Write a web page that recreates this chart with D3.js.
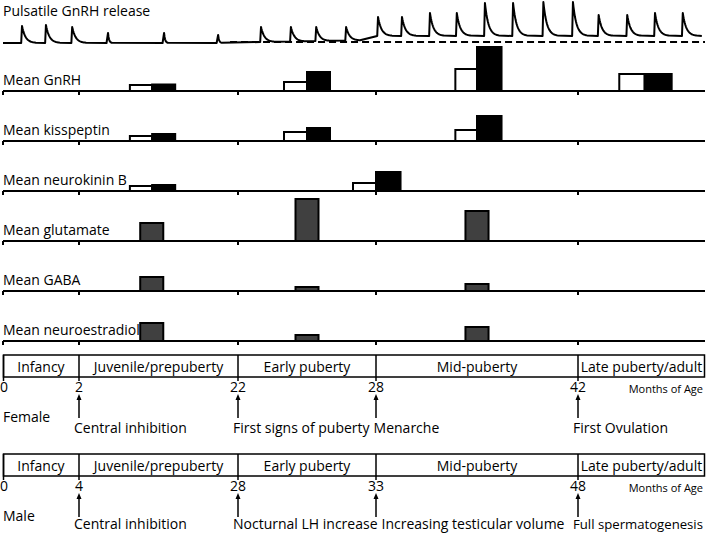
<!DOCTYPE html>
<html>
<head>
<meta charset="utf-8">
<script src="https://cdn.jsdelivr.net/npm/d3@7"></script>
<style>
body { margin: 0; background: #fff; }
text { font-family: "Open Sans", "Noto Sans", sans-serif; fill: #000; }
</style>
</head>
<body>
<div id="chart"></div>
<script>
// ---- data ----
const stages = ["Infancy", "Juvenile/prepuberty", "Early puberty", "Mid-puberty", "Late puberty/adult"];
const femaleTicks = [0, 2, 22, 28, 42];
const maleTicks = [0, 4, 28, 33, 48];
const femaleEvents = [
    { m: 2, label: "Central inhibition" },
    { m: 22, label: "First signs of puberty" },
    { m: 28, label: "Menarche" },
    { m: 42, label: "First Ovulation" }
];
const maleEvents = [
    { m: 4, label: "Central inhibition" },
    { m: 28, label: "Nocturnal LH increase" },
    { m: 33, label: "Increasing testicular volume" },
    { m: 48, label: "Full spermatogenesis" }
];

// pulses (female months), baseline level and peak level
const pulseMonths = [0.5, 1.13, 1.82, 5.65, 12.7, 19.5, 23.0, 24.3, 25.4, 26.7,
    28.14, 29.8, 31.74, 33.6, 35.55, 37.5, 39.6, 41.65, 43.3, 45.1, 46.85, 48.6];
const pulseBase = [0, 0, 0, 0, 0, 0, 1, 1.5, 2, 2.5,
    7, 7, 7, 7, 7, 7, 7, 7, 7, 7, 7, 7];
const pulsePeak = [17, 18, 16, 10, 10, 8, 16, 16, 16, 16,
    26, 26, 30, 30, 40, 40, 41, 41, 28, 28, 30, 30];

const rowNames = ["Mean GnRH", "Mean kisspeptin", "Mean neurokinin B",
    "Mean glutamate", "Mean GABA", "Mean neuroestradiol"];

// paired bars: start, split, end (months), open value, filled value
const gnrhBars = [
    { x0: 8.4, x1: 11.2, x2: 14.1, open: 6, fill: 6.5 },
    { x0: 24, x1: 25, x2: 26, open: 9, fill: 19 },
    { x0: 33.5, x1: 35, x2: 36.7, open: 22, fill: 44 },
    { x0: 44.6, x1: 46.2, x2: 47.9, open: 17, fill: 17 }
];
const kissBars = [
    { x0: 8.4, x1: 11.2, x2: 14.1, open: 5, fill: 7 },
    { x0: 24, x1: 25, x2: 26, open: 9, fill: 13 },
    { x0: 33.5, x1: 35, x2: 36.7, open: 11, fill: 25 }
];
const nkbBars = [
    { x0: 8.4, x1: 11.2, x2: 14.1, open: 5, fill: 6 },
    { x0: 27, x1: 28, x2: 29.7, open: 8, fill: 19 }
];
// single bars
const singleSpans = [[9.7, 12.6], [24.5, 25.5], [34.2, 35.8]];
const glutamate = [18, 42, 30];
const gaba = [14, 4, 7];
const neuroestradiol = [18, 6, 14];

// ---- layout ----
const W = 709, H = 537;
const edgeX = [3, 79, 238, 376, 578, 705];

const svg = d3.select("#chart").append("svg")
    .attr("width", W)
    .attr("height", H);

let x = d3.scaleLinear().domain([...femaleTicks, 50]).range(edgeX);
let xm = d3.scaleLinear().domain([...maleTicks, 56]).range(edgeX);

// ---- pulsatile trace ----
svg.append("text")
    .attr("x", 3).attr("y", 16)
    .attr("font-size", 14)
    .text("Pulsatile GnRH release");

let yP = d3.scaleLinear().domain([0, 43]).range([43, 0]);

svg.append("line")
    .attr("x1", x(21)).attr("x2", x(50))
    .attr("y1", yP(1)).attr("y2", yP(1))
    .attr("stroke", "#000")
    .attr("stroke-width", 2)
    .attr("stroke-dasharray", "7,4");

let pts = [[x(0), yP(pulseBase[0])]];
pulseMonths.forEach((m, i) => {
    let px = x(m), b = pulseBase[i], amp = pulsePeak[i] - b;
    let small = amp < 12;
    let tau = small ? 1 : 3.5;
    pts.push([px - (small ? 1.5 : 0.8), yP(b)]);
    pts.push([px, yP(pulsePeak[i])]);
    for (let k = 0.5; k <= tau * 4; k += 0.5) {
        pts.push([px + k, yP(b + amp * Math.exp(-k / tau))]);
    }
});
pts.push([x(49.8), yP(pulseBase[pulseBase.length - 1])]);

svg.append("path")
    .attr("d", d3.line()(pts))
    .attr("fill", "none")
    .attr("stroke", "#000")
    .attr("stroke-width", 2)
    .attr("stroke-linejoin", "round");

// ---- rows ----
let rowY = d3.scalePoint().domain(rowNames).range([91, 341]);
let h = d3.scaleLinear().domain([0, 50]).range([0, 50]);

let rows = svg.selectAll("g.row")
    .data(rowNames)
    .enter()
    .append("g")
    .attr("class", "row")
    .attr("transform", d => "translate(0," + rowY(d) + ")");

rows.append("text")
    .attr("x", 3).attr("y", -6)
    .attr("font-size", 14)
    .text(d => d);

function pairedBars(name, bars) {
    let g = svg.append("g").attr("transform", "translate(0," + rowY(name) + ")");
    g.selectAll("rect.open")
        .data(bars).enter().append("rect")
        .attr("x", d => x(d.x0))
        .attr("y", d => -h(d.open))
        .attr("width", d => x(d.x1) - x(d.x0))
        .attr("height", d => h(d.open))
        .attr("fill", "#fff")
        .attr("stroke", "#000")
        .attr("stroke-width", 2);
    g.selectAll("rect.fill")
        .data(bars).enter().append("rect")
        .attr("x", d => x(d.x1))
        .attr("y", d => -h(d.fill))
        .attr("width", d => x(d.x2) - x(d.x1))
        .attr("height", d => h(d.fill))
        .attr("fill", "#000")
        .attr("stroke", "#000")
        .attr("stroke-width", 2);
}

function singleBars(name, values) {
    let g = svg.append("g").attr("transform", "translate(0," + rowY(name) + ")");
    g.selectAll("rect")
        .data(values).enter().append("rect")
        .attr("x", (d, i) => x(singleSpans[i][0]))
        .attr("y", d => -h(d))
        .attr("width", (d, i) => x(singleSpans[i][1]) - x(singleSpans[i][0]))
        .attr("height", d => h(d))
        .attr("fill", "#404040")
        .attr("stroke", "#000")
        .attr("stroke-width", 2);
}

pairedBars("Mean GnRH", gnrhBars);
pairedBars("Mean kisspeptin", kissBars);
pairedBars("Mean neurokinin B", nkbBars);
singleBars("Mean glutamate", glutamate);
singleBars("Mean GABA", gaba);
singleBars("Mean neuroestradiol", neuroestradiol);

// baselines + ticks drawn over bars
rows.append("line")
    .attr("x1", x(0)).attr("x2", x(50))
    .attr("stroke", "#000")
    .attr("stroke-width", 2);
rows.selectAll("line.tick")
    .data(femaleTicks).enter().append("line")
    .attr("class", "tick")
    .attr("x1", d => x(d)).attr("x2", d => x(d))
    .attr("y1", 0).attr("y2", 4)
    .attr("stroke", "#000")
    .attr("stroke-width", 2);

// ---- timelines ----
function timeline(top, scale, ticks, events, sex, labelY) {
    let g = svg.append("g").attr("transform", "translate(0," + top + ")");
    let ends = [...ticks, scale.domain()[5]];

    g.append("rect")
        .attr("x", scale(ends[0]) + 0.5).attr("y", 0)
        .attr("width", scale(ends[5]) - scale(ends[0]) - 1)
        .attr("height", 22)
        .attr("fill", "none")
        .attr("stroke", "#000")
        .attr("stroke-width", 1.5);

    g.selectAll("line.div")
        .data(ticks).enter().append("line")
        .attr("x1", d => scale(d) + (d === ticks[0] ? 0.5 : 0))
        .attr("x2", d => scale(d) + (d === ticks[0] ? 0.5 : 0))
        .attr("y1", 0).attr("y2", 26)
        .attr("stroke", "#000")
        .attr("stroke-width", 1.5);

    g.selectAll("text.stage")
        .data(stages).enter().append("text")
        .attr("x", (d, i) => (scale(ends[i]) + scale(ends[i + 1])) / 2)
        .attr("y", 17)
        .attr("text-anchor", "middle")
        .attr("font-size", 14)
        .text(d => d);

    g.selectAll("text.tick")
        .data(ticks).enter().append("text")
        .attr("x", d => Math.max(scale(d), 4))
        .attr("y", 37)
        .attr("text-anchor", "middle")
        .attr("font-size", 14)
        .text(d => d);

    g.append("text")
        .attr("x", 703).attr("y", 38)
        .attr("text-anchor", "end")
        .attr("font-size", 11)
        .text("Months of Age");

    g.append("text")
        .attr("x", 3).attr("y", 67)
        .attr("font-size", 14)
        .text(sex);

    events.forEach(e => {
        let ex = scale(e.m);
        g.append("line")
            .attr("x1", ex).attr("x2", ex)
            .attr("y1", 44).attr("y2", 63)
            .attr("stroke", "#000")
            .attr("stroke-width", 1.5);
        g.append("path")
            .attr("d", `M${ex - 2.5},${45} L${ex},${39} L${ex + 2.5},${45} Z`)
            .attr("fill", "#000");
    });

    let prevEnd = -Infinity;
    events.forEach(e => {
        let t = g.append("text")
            .attr("y", labelY)
            .attr("font-size", 14)
            .text(e.label);
        let tx = Math.max(scale(e.m) - 5, prevEnd + 4);
        t.attr("x", tx);
        let len = t.node().getComputedTextLength();
        // shrink a label that would run past the right edge
        let room = W - 6 - tx;
        if (len > room) {
            t.attr("font-size", 14 * room / len);
            len = t.node().getComputedTextLength();
        }
        prevEnd = tx + len;
    });
}

timeline(355, x, femaleTicks, femaleEvents, "Female", 78);
timeline(454, xm, maleTicks, maleEvents, "Male", 75);
</script>
</body>
</html>
